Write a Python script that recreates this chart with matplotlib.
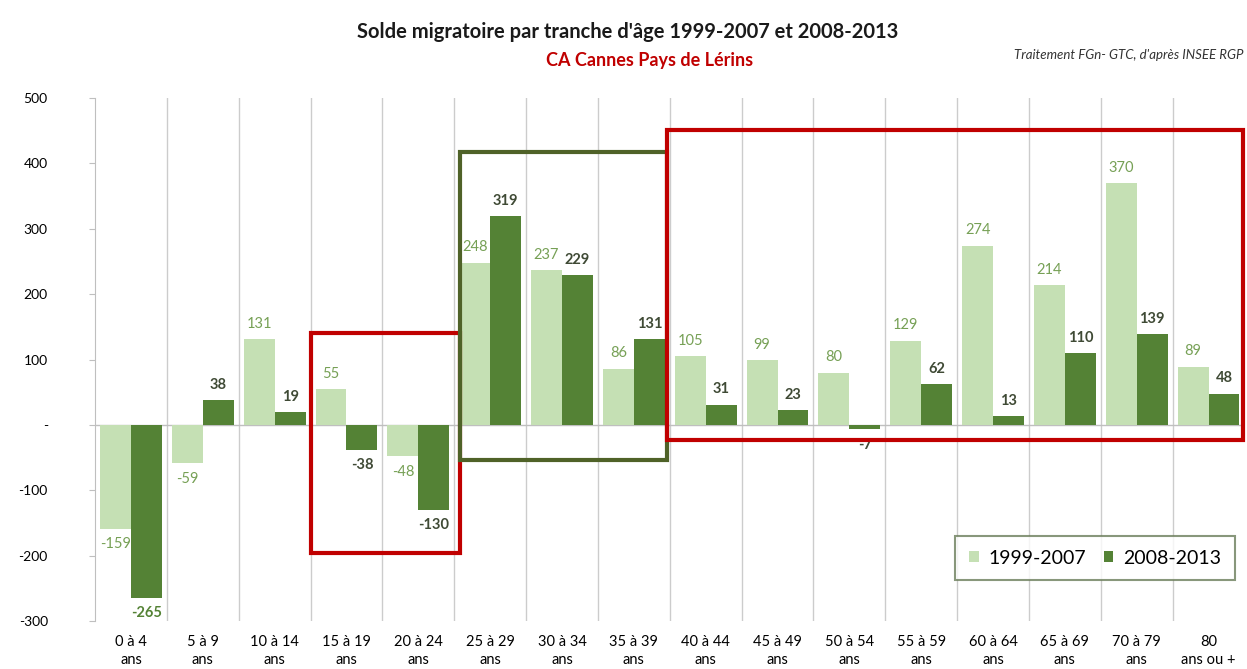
import matplotlib.pyplot as plt
import matplotlib.patches as patches
import numpy as np

# data
categories = ['0 à 4\nans', '5 à 9\nans', '10 à 14\nans', '15 à 19\nans', '20 à 24\nans',
              '25 à 29\nans', '30 à 34\nans', '35 à 39\nans', '40 à 44\nans', '45 à 49\nans',
              '50 à 54\nans', '55 à 59\nans', '60 à 64\nans', '65 à 69\nans', '70 à 79\nans',
              '80\nans ou +']
solde_1999_2007 = [-159, -59, 131, 55, -48, 248, 237, 86, 105, 99, 80, 129, 274, 214, 370, 89]
solde_2008_2013 = [-265, 38, 19, -38, -130, 319, 229, 131, 31, 23, -7, 62, 13, 110, 139, 48]
yticks = [-300, -200, -100, 0, 100, 200, 300, 400, 500]
ytick_labels = ['-300', '-200', '-100', '-', '100', '200', '300', '400', '500']

plt.rcParams['font.family'] = ['Lato', 'DejaVu Sans']

light = '#c5e0b4'
dark = '#548235'

fig = plt.figure(figsize=(12.47, 6.69), dpi=100)
ax = fig.add_axes([0.0762, 0.0717, 0.9218, 0.7818])

x = np.arange(len(categories))
w = 0.43
ax.bar(x - w / 2, solde_1999_2007, w, color=light, label='1999-2007', zorder=3)
ax.bar(x + w / 2, solde_2008_2013, w, color=dark, label='2008-2013', zorder=3)

# value labels
for xi, v in zip(x - w / 2, solde_1999_2007):
    off = 6 if v >= 0 else -6
    ax.annotate(str(v), (xi, v), xytext=(0, off), textcoords='offset points',
                ha='center', va='bottom' if v >= 0 else 'top', fontsize=10.5, color='#76a055')
for xi, v in zip(x + w / 2, solde_2008_2013):
    off = 6 if v >= 0 else -6
    col = dark if v == -265 else '#3f4a35'
    ax.annotate(str(v), (xi, v), xytext=(0, off), textcoords='offset points',
                ha='center', va='bottom' if v >= 0 else 'top', fontsize=10.5,
                fontweight='bold', color=col)

ax.set_xlim(-0.5, len(categories) - 0.5)
ax.set_ylim(-300, 500)
ax.set_yticks(yticks)
ax.set_yticklabels(ytick_labels, fontsize=10)
ax.set_xticks(x)
ax.set_xticklabels(categories, fontsize=10.5, linespacing=1.4)
ax.tick_params(axis='x', length=0, pad=10)
ax.tick_params(axis='y', length=4, color='#bfbfbf', pad=30)

# vertical separators between categories
for b in np.arange(0.5, len(categories) - 0.5, 1):
    ax.axvline(b, color='#cccccc', lw=1, zorder=0)
ax.axhline(0, color='#bfbfbf', lw=1, zorder=2)

for s in ['top', 'right', 'bottom']:
    ax.spines[s].set_visible(False)
ax.spines['left'].set_color('#bfbfbf')

# highlight boxes
ax.add_patch(patches.Rectangle((2.5, -196), 2.08, 336, fill=False, ec='#c00000', lw=3, zorder=5, clip_on=False))
ax.add_patch(patches.Rectangle((4.58, -54), 2.88, 471, fill=False, ec='#4f6228', lw=3, zorder=5, clip_on=False))
ax.add_patch(patches.Rectangle((7.46, -23), 8.02, 474, fill=False, ec='#c00000', lw=3, zorder=5, clip_on=False))

leg = ax.legend(loc='lower right', bbox_to_anchor=(0.9915, 0.078), borderaxespad=0,
                ncol=2, fontsize=14, frameon=True, fancybox=False,
                handlelength=0.5, handleheight=0.5, columnspacing=0.9,
                handletextpad=0.5, borderpad=0.7)
leg.get_frame().set_edgecolor('#6b7d5a')
leg.get_frame().set_linewidth(1.5)
leg.set_zorder(6)

fig.text(0.503, 0.952, "Solde migratoire par tranche d'âge 1999-2007 et 2008-2013",
         ha='center', va='center', fontsize=14.5, fontweight='bold', color='#1a1a1a')
fig.text(0.521, 0.909, 'CA Cannes Pays de Lérins', ha='center', va='center',
         fontsize=13, fontweight='bold', color='#c00000')
fig.text(0.997, 0.918, "Traitement FGn- GTC, d'après INSEE RGP", ha='right', va='center',
         fontsize=9.5, style='italic', color='#333333')

plt.savefig('out.png', dpi=100)
